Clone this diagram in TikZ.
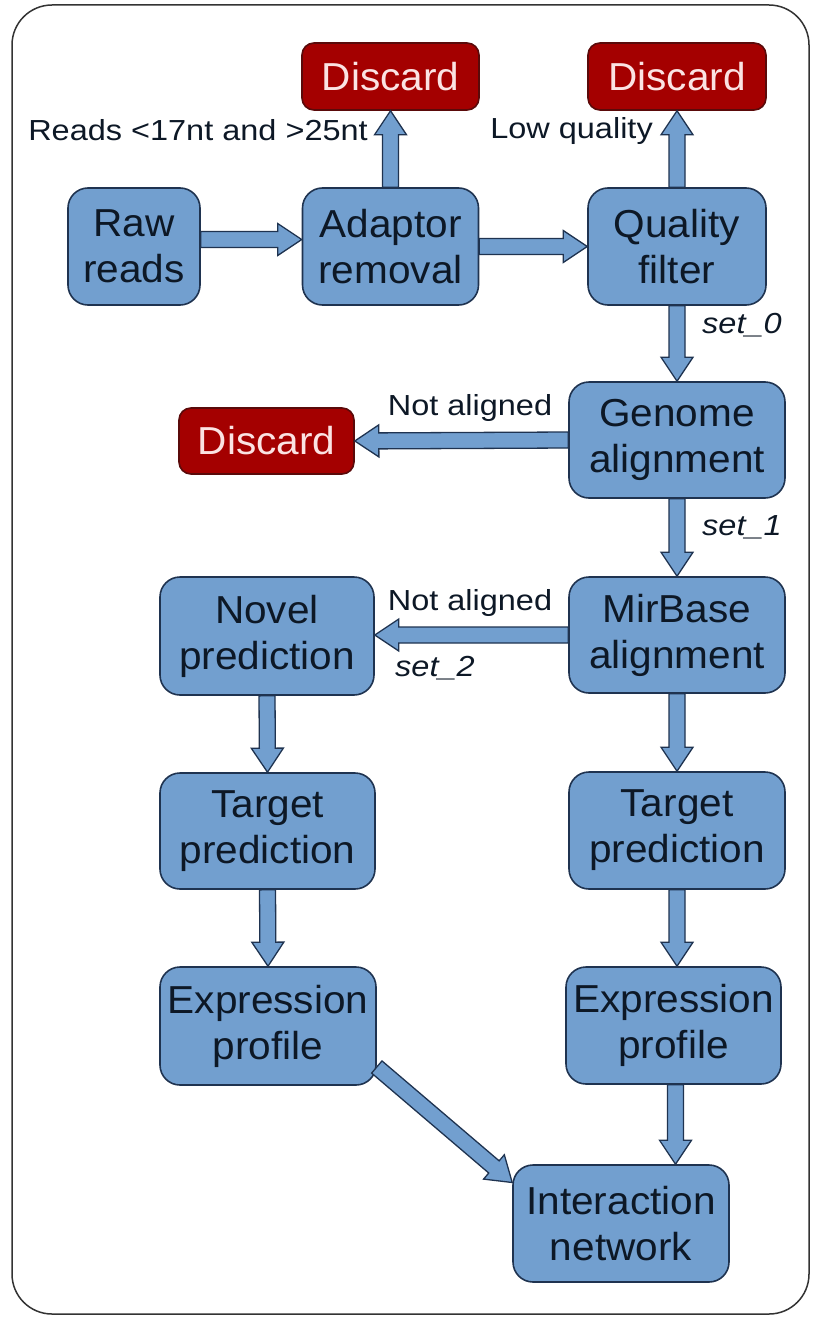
\documentclass[tikz,border=0pt]{standalone}
\usepackage{fontspec}
\setmainfont[FakeStretch=1.04]{Liberation Sans}
\newfontfamily\labelfont[FakeStretch=1.12]{Liberation Sans}
\usetikzlibrary{calc}
\definecolor{boxblue}{HTML}{729FCF}
\definecolor{boxline}{HTML}{1F3350}
\definecolor{discardred}{HTML}{A40000}
\definecolor{discline}{HTML}{5A0A0A}
\definecolor{disctext}{HTML}{FBE3E3}
\definecolor{txtdark}{HTML}{0D1826}
\definecolor{framegray}{HTML}{333333}
\tikzset{
  proc/.style={draw=boxline, fill=boxblue, line width=1.6pt, rounded corners=20pt,
    align=center, inner sep=0pt, text=txtdark, font=\fontsize{39}{46}\selectfont},
  disc/.style={draw=discline, fill=discardred, line width=1.6pt, rounded corners=12pt,
    align=center, inner sep=0pt, text=disctext, font=\fontsize{39}{46}\selectfont},
  lbl/.style={inner sep=0pt, text=txtdark, font=\labelfont\fontsize{29}{34}\selectfont},
  lbli/.style={inner sep=0pt, text=txtdark, font=\labelfont\fontsize{29}{34}\selectfont\itshape},
  barrowstyle/.style={draw=boxline, fill=boxblue, line width=1.3pt, line join=miter},
}
\newcommand\blockarrow[2]{%
  \coordinate (ba-a) at #1;
  \coordinate (ba-b) at #2;
  \coordinate (ba-c) at ($(ba-b)!24pt!(ba-a)$);
  \filldraw[barrowstyle] ($(ba-a)!8pt!90:(ba-b)$) -- ($(ba-c)!8pt!90:(ba-b)$)
    -- ($(ba-c)!16pt!90:(ba-b)$) -- (ba-b) -- ($(ba-c)!16pt!-90:(ba-b)$)
    -- ($(ba-c)!8pt!-90:(ba-b)$) -- ($(ba-a)!8pt!-90:(ba-b)$) -- cycle;
}
\begin{document}
\begin{tikzpicture}[x=1pt,y=-1pt]
\useasboundingbox (0,0) rectangle (812,1319);
\draw[framegray, line width=1.5pt, rounded corners=40pt] (12,5) rectangle (809,1314);

% nodes
\node[proc, minimum width=132pt, minimum height=117pt] (raw) at (134,246.5) {Raw\\reads};
\node[proc, minimum width=176pt, minimum height=117pt] (adapt) at (390.5,246.5) {Adaptor\\removal};
\node[proc, minimum width=178pt, minimum height=117pt] (qual) at (677,246.5) {Quality\\filter};
\node[disc, minimum width=177pt, minimum height=67pt] (dis1) at (390.5,76.5) {Discard};
\node[disc, minimum width=178pt, minimum height=67pt] (dis2) at (677,76.5) {Discard};
\node[proc, minimum width=216pt, minimum height=116pt] (genome) at (677,440) {Genome\\alignment};
\node[disc, minimum width=175pt, minimum height=66pt] (dis3) at (266.5,441) {Discard};
\node[proc, minimum width=216pt, minimum height=116pt] (mirbase) at (677,635) {MirBase\\alignment};
\node[proc, minimum width=214pt, minimum height=118pt] (novel) at (267,636) {Novel\\prediction};
\node[proc, minimum width=215pt, minimum height=116pt] (target1) at (267.5,831) {Target\\prediction};
\node[proc, minimum width=216pt, minimum height=117pt] (target2) at (677,830.5) {Target\\prediction};
\node[proc, minimum width=216pt, minimum height=118pt] (expr1) at (268,1026) {Expression\\profile};
\node[proc, minimum width=215pt, minimum height=117pt] (expr2) at (673.5,1025.5) {Expression\\profile};
\node[proc, minimum width=216pt, minimum height=117pt] (inter) at (621,1223.5) {Interaction\\network};

% arrows
\blockarrow{([yshift=7pt]raw.east)}{([yshift=7pt]adapt.west)}
\blockarrow{(adapt.east)}{(qual.west)}
\blockarrow{(adapt.north)}{(dis1.south)}
\blockarrow{(qual.north)}{(dis2.south)}
\blockarrow{(qual.south)}{(genome.north)}
\blockarrow{(genome.west)}{(dis3.east)}
\blockarrow{(genome.south)}{(mirbase.north)}
\blockarrow{(mirbase.west)}{(mirbase.west -| novel.east)}
\blockarrow{(novel.south)}{(target1.north)}
\blockarrow{(target1.south)}{(expr1.north)}
\blockarrow{(mirbase.south)}{(target2.north)}
\blockarrow{(target2.south)}{(target2.south |- expr2.north)}
\blockarrow{([xshift=2pt]expr2.south)}{([xshift=2pt]expr2.south |- inter.north)}
\blockarrow{([yshift=-41pt]expr1.east)}{([yshift=41pt]inter.west)}

% labels
\node[lbl, anchor=east] (l1) at (368,130) {Reads <17nt and >25nt};
\node[lbl, anchor=east] (l2) at (653,131) {Low quality};
\node[lbli, anchor=west] (l3) at (702,325) {set\_0};
\node[lbl] (l4) at (470,408) {Not aligned};
\node[lbli, anchor=west] (l5) at (702,527) {set\_1};
\node[lbl] (l6) at (470,603) {Not aligned};
\node[lbli, anchor=west] (l7) at (395,668) {set\_2};
\end{tikzpicture}
\end{document}
